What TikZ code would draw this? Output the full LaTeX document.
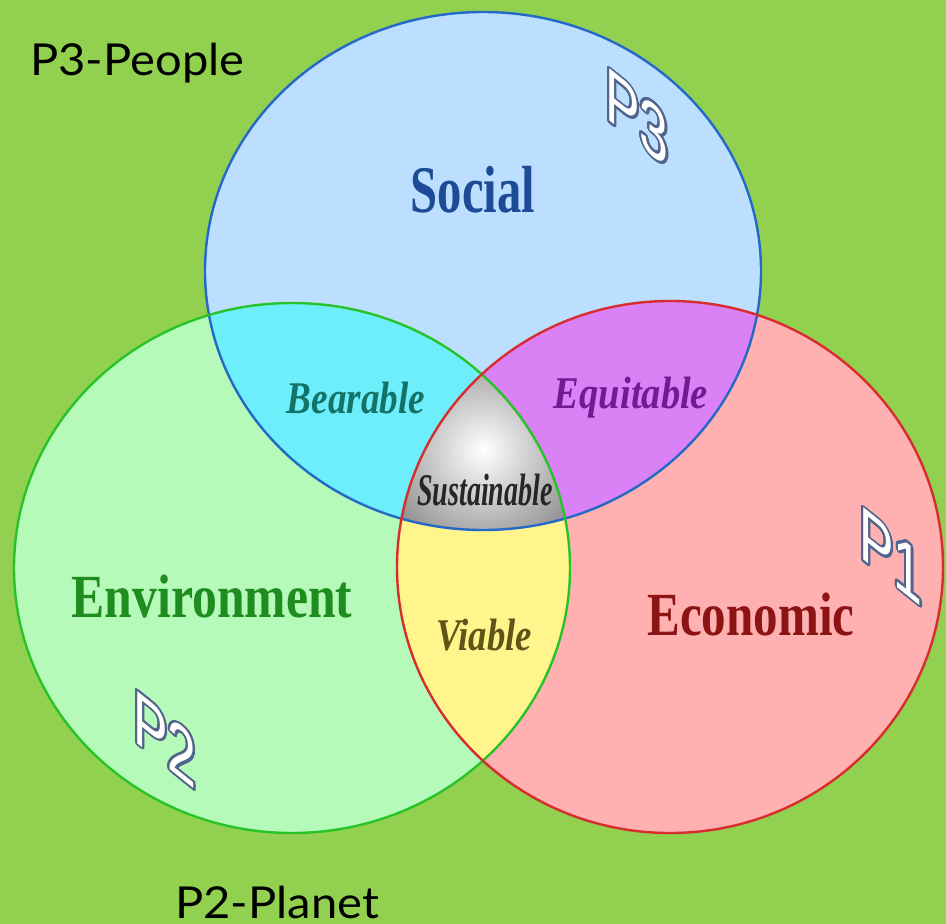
\documentclass[tikz,border=0pt]{standalone}
\usepackage{fontspec}
\setmainfont{Liberation Serif}
\newfontfamily\gillfont{Lato}
\newfontfamily\pfont{Liberation Sans}
\usepackage{contour}
\contourlength{1.6pt}
\contournumber{32}

\definecolor{bgreen}{RGB}{146,208,80}
\definecolor{socfill}{RGB}{188,222,255}
\definecolor{envfill}{RGB}{182,250,186}
\definecolor{ecofill}{RGB}{255,176,176}
\definecolor{bearfill}{RGB}{110,238,250}
\definecolor{equifill}{RGB}{218,130,245}
\definecolor{viafill}{RGB}{255,245,140}
\definecolor{socline}{RGB}{35,105,200}
\definecolor{envline}{RGB}{40,195,40}
\definecolor{ecoline}{RGB}{215,45,45}
\definecolor{soctext}{RGB}{30,75,150}
\definecolor{envtext}{RGB}{30,140,30}
\definecolor{ecotext}{RGB}{140,20,20}
\definecolor{beartext}{RGB}{20,115,105}
\definecolor{equitext}{RGB}{115,25,145}
\definecolor{viatext}{RGB}{95,85,25}
\definecolor{pedge}{RGB}{80,100,140}

\newcommand{\cond}[2]{\scalebox{#1}[1]{#2}}
\newcommand{\outl}[1]{\contour{pedge}{\textcolor{white}{\cond{0.68}{#1}}}}

\def\socring{(483,271) ellipse [x radius=278, y radius=259]}
\def\envring{(292,568) ellipse [x radius=278, y radius=265]}
\def\ecoring{(670,567) ellipse [x radius=273, y radius=266]}

\begin{document}
\begin{tikzpicture}[x=0.75pt,y=-0.75pt,
    big/.style={inner sep=0pt,font=\fontsize{46}{46}\selectfont\bfseries},
    mid/.style={inner sep=0pt,font=\fontsize{34}{34}\selectfont\bfseries\itshape},
    plab/.style={inner sep=0pt,yslant=-0.8,transform shape,font=\pfont\fontsize{57}{57}\selectfont},
    caption/.style={inner sep=0pt,anchor=base west,font=\gillfont\fontsize{33}{33}\selectfont}]
  \fill[bgreen] (0,0) rectangle (946,924);
  \useasboundingbox (0,0) rectangle (946,924);
  % the three circles
  \fill[socfill] \socring;
  \fill[envfill] \envring;
  \fill[ecofill] \ecoring;
  % pairwise overlaps
  \begin{scope}
    \clip \socring;
    \fill[bearfill] \envring;
    \fill[equifill] \ecoring;
  \end{scope}
  \begin{scope}
    \clip \envring;
    \fill[viafill] \ecoring;
  \end{scope}
  % centre
  \begin{scope}
    \clip \socring;
    \clip \envring;
    \clip \ecoring;
    \shade[inner color=white,outer color=black!45] (483,450) circle (110);
  \end{scope}
  \draw[socline,line width=1.8pt] \socring;
  \draw[envline,line width=1.8pt] \envring;
  \draw[ecoline,line width=1.8pt] \ecoring;

  \node[big,soctext,font=\fontsize{50}{50}\selectfont\bfseries] (soctxt) at (473,190) {\cond{0.73}{Social}};
  \node[big,envtext] (envtxt) at (212,597) {\cond{0.81}{Environment}};
  \node[big,ecotext] (ecotxt) at (751,615) {\cond{0.8}{Economic}};
  \node[mid,beartext] (beartxt) at (356,398) {\cond{0.82}{Bearable}};
  \node[mid,equitext] (equitxt) at (631,398) {\cond{0.85}{Equitable}};
  \node[mid,viatext] (viatxt) at (484,635) {\cond{0.81}{Viable}};
  \node[mid,black!85] (sustxt) at (485,490) {\cond{0.62}{Sustainable}};

  \node[plab] (pthree) at (637,118) {\outl{P3}};
  \node[plab] (pone) at (891,557) {\outl{P1}};
  \node[plab] (ptwo) at (165,740) {\outl{P2}};

  \node[caption] (people) at (30,75) {\cond{1.07}{P3-People}};
  \node[caption] (planet) at (175,918) {\cond{1.07}{P2-Planet}};
\end{tikzpicture}
\end{document}
